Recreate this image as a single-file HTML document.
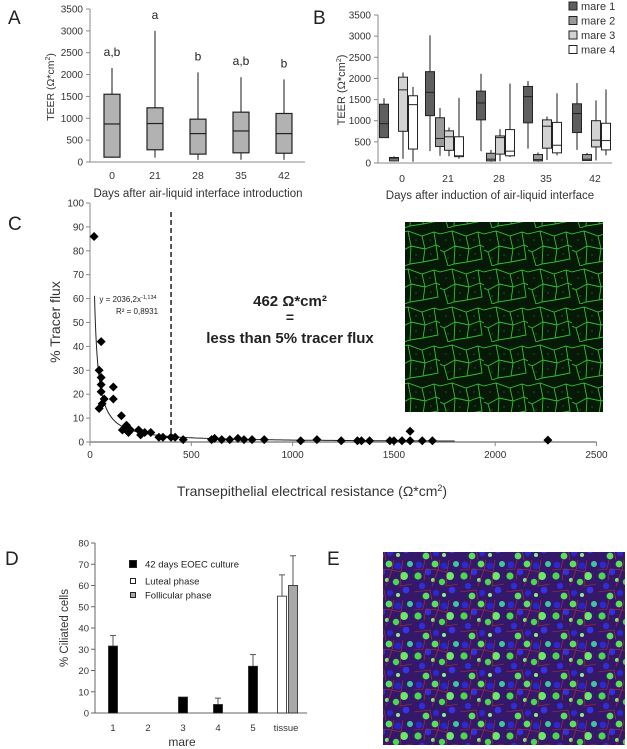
<!DOCTYPE html>
<html><head><meta charset="utf-8"><style>
html,body{margin:0;padding:0;background:#fff}
svg{display:block;font-family:"Liberation Sans",sans-serif}
</style></head><body>
<svg id="fig" width="627" height="749" viewBox="0 0 627 749" xmlns="http://www.w3.org/2000/svg">
<defs>
<pattern id="cellsC" width="44" height="38" patternUnits="userSpaceOnUse">
<rect width="44" height="38" fill="#061806"/>
<path d="M0 6 L12 3 L26 8 L38 4 L44 6 M12 3 L15 18 L4 24 L0 22 M15 18 L29 21 L26 8 M29 21 L40 17 L38 4 M40 17 L44 19 M4 24 L8 38 M29 21 L27 34 L14 36 L8 38 M27 34 L42 31 L40 17 M14 36 L15 18" stroke="#32c032" stroke-width="0.9" fill="none"/>
<circle cx="6" cy="12" r="0.6" fill="#2a8a2a"/><circle cx="20" cy="12" r="0.6" fill="#2a8a2a"/><circle cx="34" cy="12" r="0.6" fill="#2a8a2a"/><circle cx="20" cy="27" r="0.6" fill="#2a8a2a"/><circle cx="35" cy="26" r="0.6" fill="#2a8a2a"/><circle cx="8" cy="30" r="0.6" fill="#2a8a2a"/>
</pattern>
<pattern id="cellsE" width="46" height="40" patternUnits="userSpaceOnUse">
<rect width="46" height="40" fill="#35186a"/>
<circle cx="5" cy="5" r="3.4" fill="#2a2ad0"/><circle cx="14" cy="12" r="3.2" fill="#3030e0"/><circle cx="30" cy="6" r="3.5" fill="#2626c8"/><circle cx="38" cy="30" r="3.3" fill="#3434e4"/><circle cx="22" cy="33" r="3" fill="#2a2ad0"/><circle cx="8" cy="26" r="3.1" fill="#2e2ed8"/>
<circle cx="21" cy="4" r="3.4" fill="#5ae05a"/><circle cx="4" cy="16" r="3.6" fill="#4cd84c"/><circle cx="36" cy="16" r="4" fill="#6aea6a"/><circle cx="28" cy="22" r="3.2" fill="#4cd84c"/><circle cx="12" cy="36" r="3.4" fill="#5ae05a"/><circle cx="42" cy="4" r="3" fill="#3fc8a0"/>
<circle cx="19" cy="20" r="2" fill="#7af07a"/><circle cx="30" cy="35" r="2" fill="#8af08a"/>
<path d="M0 10 L9 9 L11 0 M10 20 L12 9 L24 10 L26 0 M24 10 L33 12 L35 0 M33 12 L32 26 L44 24 M18 26 L24 10 M0 32 L16 30 L18 40" stroke="#b03030" stroke-width="0.6" fill="none"/>
</pattern>
</defs>

<!-- panel labels -->
<text x="8" y="24" font-size="19" fill="#222">A</text>
<text x="313" y="24" font-size="19" fill="#222">B</text>
<text x="8" y="230" font-size="19" fill="#222">C</text>
<text x="5" y="565" font-size="19" fill="#222">D</text>
<text x="327" y="565" font-size="19" fill="#222">E</text>

<g id="pA"></g>
<g id="pB"></g>
<g id="pC"></g>
<g id="pD"></g>

<rect x="405" y="222" width="198" height="190" fill="url(#cellsC)"/>
<rect x="383" y="552" width="242" height="193" fill="url(#cellsE)"/>
</svg>
<script>
// ---------- Panel A data ----------
const aCategories = ["0","21","28","35","42"];
const aMin = [100,100,50,50,50];
const aQ1 = [110,280,180,210,200];
const aMed = [870,880,650,710,650];
const aQ3 = [1550,1240,980,1140,1110];
const aMax = [2150,3000,2050,1940,1890];
const aLetters = ["a,b","a","b","a,b","b"];
const aYTicks = [0,500,1000,1500,2000,2500,3000,3500];
// ---------- Panel B data ----------
const bCategories = ["0","21","28","35","42"];
const bSeries = ["mare 1","mare 2","mare 3","mare 4"];
const bMin = [[600,280,280,340,310],[40,170,30,30,50],[100,160,40,70,60],[30,100,140,180,180]];
const bQ1 = [[600,1120,1020,950,720],[50,390,50,50,60],[750,300,210,350,380],[330,150,170,240,310]];
const bMed = [[930,1670,1420,1570,1170],[100,580,90,80,90],[1730,620,600,870,540],[1380,170,280,420,530]];
const bQ3 = [[1390,2160,1700,1810,1400],[130,1070,230,200,200],[2030,760,640,1020,1000],[1590,620,790,960,940]];
const bMax = [[1530,3020,2110,1940,1890],[160,1300,310,250,240],[2140,840,800,1100,1480],[1800,1540,1880,1650,1740]];
// ---------- Panel C data ----------
const cX = [20,45,45,55,55,55,55,60,70,115,115,155,160,180,190,200,240,250,270,300,340,360,400,420,460,600,615,650,690,730,760,800,860,1040,1120,1240,1320,1340,1380,1480,1500,1540,1580,1580,1640,1690,2260];
const cY = [86,30,14,42,27,24,21,16,18,23,18,11,5,7,4,5,5,3,4,4,2,2,2,2,1,1,1.5,1,1,1.5,1,1,1,0.5,1,0.5,0.5,0.5,0.5,0.5,0.5,0.5,4.5,0.5,0.5,0.5,0.8];
const cXTicks = [0,500,1000,1500,2000,2500];
const cYTicks = [0,10,20,30,40,50,60,70,80,90,100];
const cFitA = 2036.2, cFitB = -1.134, cThreshold = 400;
// ---------- Panel D data ----------
const dCategories = ["1","2","3","4","5","tissue"];
const dCulture = [31.5,0,7.5,4,22,null];
const dCultureErr = [5,0,0,3,5.5,null];
const dLuteal = 55, dLutealErr = 10, dFollicular = 60, dFollicularErr = 14;
const dYTicks = [0,10,20,30,40,50,60,70,80];

const NS="http://www.w3.org/2000/svg";
function mk(parent,tag,attrs,text){const e=document.createElementNS(NS,tag);for(const k in attrs)e.setAttribute(k,attrs[k]);if(text!==undefined)e.textContent=text;parent.appendChild(e);return e;}

// ===== Panel A =====
(function(){
const g=document.getElementById('pA');
const x0=90,yBase=162,yTop=9,xEnd=305;
const y=v=>yBase-(v/3500)*(yBase-yTop);
const xc=i=>112+i*43;
let e=mk(g,'line',{x1:x0,y1:yTop,x2:x0,y2:yBase,stroke:'#888'});

e=mk(g,'line',{x1:x0,y1:yBase,x2:xEnd,y2:yBase,stroke:'#888'});

aYTicks.forEach(t=>{mk(g,'line',{x1:x0-4,y1:y(t),x2:x0,y2:y(t),stroke:'#888'});
e=mk(g,'text',{x:x0-7,y:y(t)+3.5,'font-size':10,'text-anchor':'end',fill:'#333'},t);
});
aCategories.forEach((c,i)=>{const cx=xc(i);
mk(g,'line',{x1:cx,y1:y(aMax[i]),x2:cx,y2:y(aMin[i]),stroke:'#666','stroke-width':1.5});
e=mk(g,'rect',{x:cx-8,y:y(aQ3[i]),width:16,height:y(aQ1[i])-y(aQ3[i]),fill:'#b2b2b2',stroke:'#222','stroke-width':1.2});

mk(g,'line',{x1:cx-8,y1:y(aMed[i]),x2:cx+8,y2:y(aMed[i]),stroke:'#222','stroke-width':1.2});
e=mk(g,'text',{x:cx,y:y(aMax[i])-12,'font-size':12,'text-anchor':'middle',fill:'#222'},aLetters[i]);

e=mk(g,'text',{x:cx,y:179,'font-size':10.5,'text-anchor':'middle',fill:'#333'},c);
});
e=mk(g,'text',{x:198,y:197,'font-size':11.5,'text-anchor':'middle',fill:'#333'},'Days after air-liquid interface introduction');

e=mk(g,'text',{transform:'translate(54,87) rotate(-90)','font-size':10.5,'text-anchor':'middle',fill:'#333'});
e.innerHTML='TEER (Ω*cm<tspan dy="-4" font-size="7">2</tspan><tspan dy="4">)</tspan>';

})();

// ===== Panel B =====
(function(){
const g=document.getElementById('pB');
const x0=378,yBase=163,yTop=15,xEnd=612;
const y=v=>yBase-(v/3500)*(yBase-yTop);
const ticks=[402,448,499,546,595];
const offs=[-18,-8,1,11];
const fills=['#5e5e5e','#9a9a9a','#d2d2d2','#ffffff'];
let e=mk(g,'line',{x1:x0,y1:yTop,x2:x0,y2:yBase,stroke:'#888'});

e=mk(g,'line',{x1:x0,y1:yBase,x2:xEnd,y2:yBase,stroke:'#888'});

aYTicks.forEach(t=>{mk(g,'line',{x1:x0-4,y1:y(t),x2:x0,y2:y(t),stroke:'#888'});
e=mk(g,'text',{x:x0-7,y:y(t)+3.5,'font-size':10,'text-anchor':'end',fill:'#333'},t);
});
bCategories.forEach((c,i)=>{
bSeries.forEach((s,k)=>{const cx=ticks[i]+offs[k];
mk(g,'line',{x1:cx,y1:y(bMax[k][i]),x2:cx,y2:y(bMin[k][i]),stroke:'#666','stroke-width':1.5});
e=mk(g,'rect',{x:cx-4.5,y:y(bQ3[k][i]),width:9,height:Math.max(1,y(bQ1[k][i])-y(bQ3[k][i])),fill:fills[k],stroke:'#222','stroke-width':1});

mk(g,'line',{x1:cx-4.5,y1:y(bMed[k][i]),x2:cx+4.5,y2:y(bMed[k][i]),stroke:'#222','stroke-width':1});});
e=mk(g,'text',{x:ticks[i],y:182,'font-size':10.5,'text-anchor':'middle',fill:'#333'},c);
});
e=mk(g,'text',{x:490,y:199,'font-size':11.5,'text-anchor':'middle',fill:'#333'},'Days after induction of air-liquid interface');

e=mk(g,'text',{transform:'translate(345,90) rotate(-90)','font-size':11,'text-anchor':'middle',fill:'#333'});
e.innerHTML='TEER (Ω*cm<tspan dy="-4" font-size="7">2</tspan><tspan dy="4">)</tspan>';

bSeries.forEach((s,k)=>{const ly=6+k*14.5;
e=mk(g,'rect',{x:569,y:ly-4,width:8,height:8,fill:fills[k],stroke:'#222'});

e=mk(g,'text',{x:581,y:ly+4,'font-size':11,fill:'#333'},s);
});
})();

// ===== Panel C =====
(function(){
const g=document.getElementById('pC');
const x0=90,yBase=442,yTop=203;
const x=v=>x0+v*0.2026;
const y=v=>yBase-(v/100)*(yBase-yTop);
let e=mk(g,'line',{x1:x0,y1:yTop,x2:x0,y2:yBase,stroke:'#888'});

e=mk(g,'line',{x1:x0,y1:yBase,x2:x(2500),y2:yBase,stroke:'#888','stroke-width':1.5});

cYTicks.forEach(t=>{mk(g,'line',{x1:x0-4,y1:y(t),x2:x0,y2:y(t),stroke:'#888'});
e=mk(g,'text',{x:x0-6,y:y(t)+3.5,'font-size':10,'text-anchor':'end',fill:'#333'},t);
});
cXTicks.forEach(t=>{mk(g,'line',{x1:x(t),y1:yBase,x2:x(t),y2:yBase+4,stroke:'#888'});
e=mk(g,'text',{x:x(t),y:yBase+16,'font-size':10,'text-anchor':'middle',fill:'#333'},t);
});
let d='';for(let v=22;v<=1800;v+=(v<200?2:20)){d+=(d?'L':'M')+x(v).toFixed(1)+' '+y(Math.min(100,cFitA*Math.pow(v,cFitB))).toFixed(1);}
e=mk(g,'path',{d:d,fill:'none',stroke:'#222','stroke-width':1});

e=mk(g,'line',{x1:x(cThreshold),y1:212,x2:x(cThreshold),y2:yBase,stroke:'#222','stroke-width':1.5,'stroke-dasharray':'5,3'});

cX.forEach((v,i)=>{const px=x(v),py=y(cY[i]);
e=mk(g,'path',{d:`M${px} ${py-4.5}L${px+4.5} ${py}L${px} ${py+4.5}L${px-4.5} ${py}Z`,fill:'#000'});
});
e=mk(g,'text',{x:128,y:302,'font-size':8,'text-anchor':'middle',fill:'#222'});
e.innerHTML='y = 2036,2x<tspan dy="-3" font-size="5.5">-1,134</tspan>';

e=mk(g,'text',{x:137,y:314,'font-size':8,'text-anchor':'middle',fill:'#222'},'R² = 0,8931');

e=mk(g,'text',{x:290,y:306,'font-size':15,'font-weight':'bold','text-anchor':'middle',fill:'#222'},'462 Ω*cm²');

e=mk(g,'text',{x:290,y:322,'font-size':14,'font-weight':'bold','text-anchor':'middle',fill:'#222'},'=');

e=mk(g,'text',{x:290,y:343,'font-size':15,'font-weight':'bold','text-anchor':'middle',fill:'#222'},'less than 5% tracer flux');

e=mk(g,'text',{transform:'translate(60,322) rotate(-90)','font-size':14,'text-anchor':'middle',fill:'#333'},'% Tracer flux');

e=mk(g,'text',{x:312,y:496,'font-size':14,'text-anchor':'middle',fill:'#333'});
e.innerHTML='Transepithelial electrical resistance (Ω*cm<tspan dy="-5" font-size="9">2</tspan><tspan dy="5">)</tspan>';

})();

// ===== Panel D =====
(function(){
const g=document.getElementById('pD');
const x0=95,yBase=713,yTop=543,xEnd=307;
const y=v=>yBase-(v/80)*(yBase-yTop);
const xc=i=>113+i*35;
let e=mk(g,'line',{x1:x0,y1:yTop,x2:x0,y2:yBase,stroke:'#666'});

e=mk(g,'line',{x1:x0,y1:yBase,x2:xEnd,y2:yBase,stroke:'#666'});

dYTicks.forEach(t=>{mk(g,'line',{x1:x0-4,y1:y(t),x2:x0,y2:y(t),stroke:'#666'});
e=mk(g,'text',{x:x0-6,y:y(t)+3.5,'font-size':9.5,'text-anchor':'end',fill:'#333'},t);
});
function bar(cx,v,err,fill,name){
if(err>0){mk(g,'line',{x1:cx,y1:y(v),x2:cx,y2:y(v+err),stroke:'#555'});mk(g,'line',{x1:cx-3,y1:y(v+err),x2:cx+3,y2:y(v+err),stroke:'#555'});}
const r=mk(g,'rect',{x:cx-4.5,y:y(v),width:9,height:yBase-y(v),fill:fill,stroke:'#222','stroke-width':0.8});
}
dCategories.forEach((c,i)=>{
if(dCulture[i]!==null&&dCulture[i]>0)bar(xc(i),dCulture[i],dCultureErr[i],'#000','d-bar-culture');
e=mk(g,'text',{x:i===5?286:xc(i),y:731,'font-size':9.5,'text-anchor':'middle',fill:'#333'},c);
});
bar(282,dLuteal,dLutealErr,'#fff','d-bar-luteal');
bar(293,dFollicular,dFollicularErr,'#a8a8a8','d-bar-follicular');
const leg=[['42 days EOEC culture','#000',564,7],['Luteal phase','#fff',581,5],['Follicular phase','#a8a8a8',595,5]];
leg.forEach(l=>{e=mk(g,'rect',{x:133-l[3]/2,y:l[2]-l[3]/2,width:l[3],height:l[3],fill:l[1],stroke:'#222'});

e=mk(g,'text',{x:145,y:l[2]+3.5,'font-size':9.5,fill:'#222'},l[0]);
});
e=mk(g,'text',{transform:'translate(68,628) rotate(-90)','font-size':11.5,'text-anchor':'middle',fill:'#333'},'% Ciliated cells');

e=mk(g,'text',{x:182,y:746,'font-size':12,'text-anchor':'middle',fill:'#333'},'mare');

})();
</script>
</body></html>
